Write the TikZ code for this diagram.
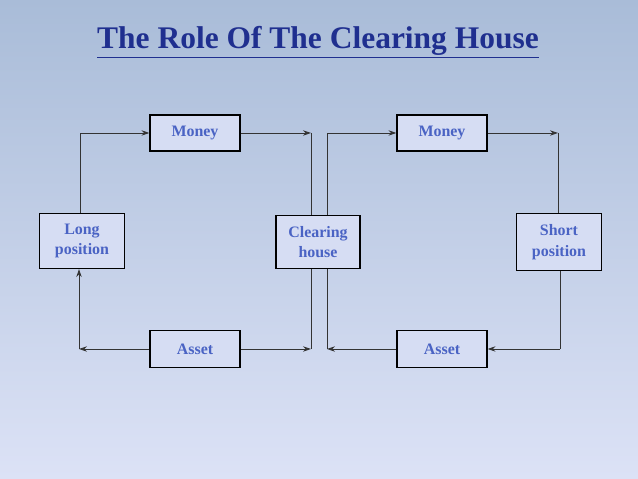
\documentclass[tikz,border=0pt]{standalone}
\usepackage{fontspec}
\setmainfont{Liberation Serif}
\usetikzlibrary{arrows.meta}
\definecolor{txt}{HTML}{4A63C4}
\definecolor{ttl}{HTML}{1F2F8F}
\definecolor{bgt}{HTML}{A9BCD8}
\definecolor{bgb}{HTML}{DCE2F6}
\definecolor{boxf}{HTML}{D6DDF3}
\tikzset{
  bx/.style={draw=black, line width=0.8pt, fill=boxf, text=txt, font=\bfseries\fontsize{12}{15.5}\selectfont, align=center, inner sep=0pt},
  ln/.style={draw=black!80, line width=0.7pt},
  ar/.style={ln, -{Stealth[length=6pt,width=4pt]}}
}
\begin{document}
\begin{tikzpicture}[x=0.0264583cm, y=-0.0264583cm]
\shade[top color=bgt, bottom color=bgb] (0,0) rectangle (638,479);
\useasboundingbox (0,0) rectangle (638,479);
\node[text=ttl, font=\bfseries\fontsize{23.7}{28}\selectfont] (t) at (318,42) {\underline{The Role Of The Clearing House}};
\node[bx, minimum width=90*0.0264583cm, minimum height=36*0.0264583cm] (m1) at (195,133) {Money};
\node[bx, minimum width=90*0.0264583cm, minimum height=36*0.0264583cm] (m2) at (442,133) {Money};
\node[bx, minimum width=90*0.0264583cm, minimum height=37*0.0264583cm] (a1) at (195,349) {Asset};
\node[bx, minimum width=90*0.0264583cm, minimum height=37*0.0264583cm] (a2) at (442,349) {Asset};
\node[bx, minimum width=85*0.0264583cm, minimum height=55*0.0264583cm] (lp) at (82,241) {Long\\position};
\node[bx, minimum width=84*0.0264583cm, minimum height=53*0.0264583cm] (ch) at (318,242) {Clearing\\house};
\node[bx, minimum width=85*0.0264583cm, minimum height=57*0.0264583cm] (sp) at (559,242) {Short\\position};
\coordinate (c1) at (311,133);
\coordinate (c2) at (327,133);
\coordinate (c3) at (311,349);
\coordinate (c4) at (327,349);
\coordinate (c5) at (79,349);
\coordinate (c6) at (558,133);
\coordinate (c7) at (560,349);
\draw[ar] (lp.north -| 80,0) |- (m1.west);
\draw[ar] (m1.east) -- (c1);
\draw[ln] (c1) -- (ch.north -| c1);
\draw[ar] (ch.north -| c2) |- (m2.west);
\draw[ar] (m2.east) -- (c6);
\draw[ln] (c6) -- (sp.north -| c6);
\draw[ln] (sp.south -| c7) -- (c7);
\draw[ar] (c7) -- (a2.east);
\draw[ar] (a2.west) -- (c4);
\draw[ln] (c4) -- (ch.south -| c4);
\draw[ln] (ch.south -| c3) -- (c3);
\draw[ar] (a1.east) -- (c3);
\draw[ar] (a1.west) -- (c5);
\draw[ar] (c5) -- (lp.south -| c5);
\end{tikzpicture}
\end{document}
